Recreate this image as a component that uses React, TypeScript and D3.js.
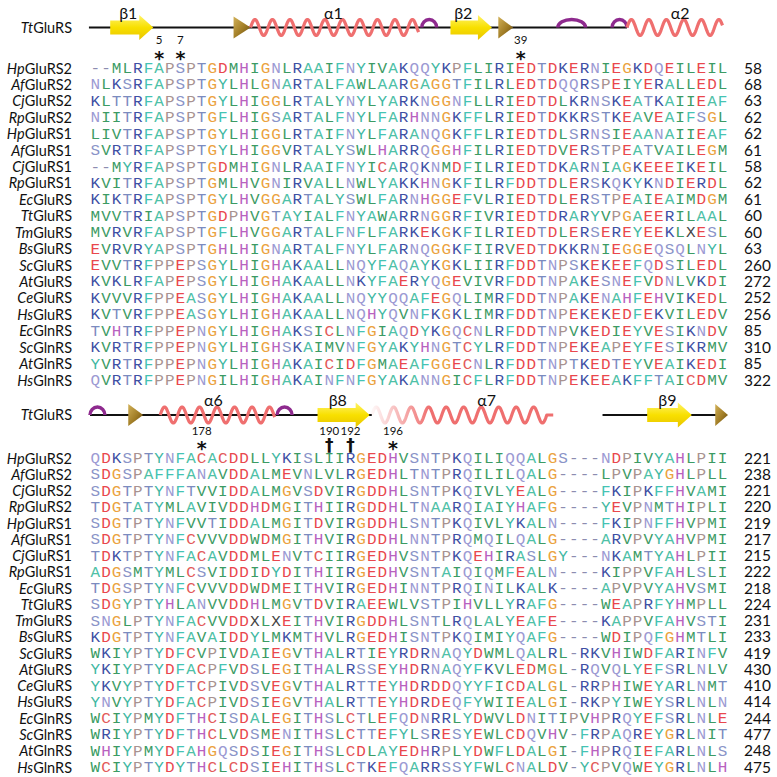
import React from "react";
import * as d3 from "d3";

const labels = [
  "HpGluRS2", "AfGluRS2", "CjGluRS2", "RpGluRS2", "HpGluRS1", "AfGluRS1", "CjGluRS1",
  "RpGluRS1", "EcGluRS", "TtGluRS", "TmGluRS", "BsGluRS", "ScGluRS", "AtGluRS",
  "CeGluRS", "HsGluRS", "EcGlnRS", "ScGlnRS", "AtGlnRS", "HsGlnRS",
];

const block1Seqs = [
  "--MLRFAPSPTGDMHIGNLRAAIFNYIVAKQQYKPFLIRIEDTDKERNIEGKDQEILEIL",
  "NLKSRFAPSPTGYLHLGNARTALFAWLAARGAGGTFILRLEDTDQQRSPEIYERALLEDL",
  "KLTTRFAPSPTGYLHIGGLRTALYNYLYARKNGGNFLLRIEDTDLKRNSKEATKAIIEAF",
  "NIITRFAPSPTGFLHIGSARTALFNYLFARHNNGKFFLRIEDTDKKRSTKEAVEAIFSGL",
  "LIVTRFAPSPTGYLHIGGLRTAIFNYLFARANQGKFFLRIEDTDLSRNSIEAANAIIEAF",
  "SVRTRFAPSPTGYLHIGGVRTALYSWLHARRQGGHFILRIEDTDVERSTPEATVAILEGM",
  "--MYRFAPSPTGDMHIGNLRAAIFNYICARQKNMDFILRIEDTDKARNIAGKEEEIKEIL",
  "KVITRFAPSPTGMLHVGNIRVALLNWLYAKKHNGKFILRFDDTDLERSKQKYKNDIERDL",
  "KIKTRFAPSPTGYLHVGGARTALYSWLFARNHGGEFVLRIEDTDLERSTPEAIEAIMDGM",
  "MVVTRIAPSPTGDPHVGTAYIALFNYAWARRNGGRFIVRIEDTDRARYVPGAEERILAAL",
  "MVRVRFAPSPTGFLHVGGARTALFNFLFARKEKGKFILRIEDTDLERSEREYEEKLXESL",
  "EVRVRYAPSPTGHLHIGNARTALFNYLFARNQGGKFIIRVEDTDKKRNIEGGEQSQLNYL",
  "EVVTRFPPEPSGYLHIGHAKAALLNQYFAQAYKGKLIIRFDDTNPSKEKEEFQDSILEDL",
  "KVKLRFAPEPSGYLHIGHAKAALLNKYFAERYQGEVIVRFDDTNPAKESNEFVDNLVKDI",
  "KVVVRFPPEASGYLHIGHAKAALLNQYYQQAFEGQLIMRFDDTNPAKENAHFEHVIKEDL",
  "KVTVRFPPEASGYLHIGHAKAALLNQHYQVNFKGKLIMRFDDTNPEKEKEDFEKVILEDV",
  "TVHTRFPPEPNGYLHIGHAKSICLNFGIAQDYKGQCNLRFDDTNPVKEDIEYVESIKNDV",
  "KVRTRFPPEPNGYLHIGHSKAIMVNFGYAKYHNGTCYLRFDDTNPEKEAPEYFESIKRMV",
  "YVRTRFPPEPNGYLHIGHAKAICIDFGMAEAFGGECNLRFDDTNPTKEDTEYVEAIKEDI",
  "QVRTRFPPEPNGILHIGHAKAINFNFGYAKANNGICFLRFDDTNPEKEEAKFFTAICDMV",
];
const block1End = [58, 68, 63, 62, 62, 61, 58, 62, 61, 60, 60, 63, 260, 272, 252, 256, 85, 310, 85, 322];

const block2Seqs = [
  "QDKSPTYNFACACDDLLYKISLIIRGEDHVSNTPKQILIQQALGS---NDPIVYAHLPII",
  "SDGSPAFFFANAVDDALMEVNLVLRGEDHLTNTPRQILILQALG----LPVPAYGHLPLL",
  "SDGTPTYNFTVVIDDALMGVSDVIRGDDHLSNTPKQIVLYEALG----FKIPKFFHVAMI",
  "TDGTATYMLAVIVDDHDMGITHIIRGDDHLTNAARQIAIYHAFG----YEVPNMTHIPLI",
  "SDGTPTYNFVVTIDDALMGITDVIRGDDHLSNTPKQIVLYKALN----FKIPNFFHVPMI",
  "SDGTPTYNFCVVVDDWDMGITHVIRGDDHLNNTPRQMQILQALG----ARVPVYAHVPMI",
  "TDKTPTYNFACAVDDMLENVTCIIRGEDHVSNTPKQEHIRASLGY---NKAMTYAHLPII",
  "ADGSMTYMLCSVIDDIDYDITHIIRGEDHVSNTAIQIQMFEALN----KIPPVFAHLSLI",
  "TDGSPTYNFCVVVDDWDMEITHVIRGEDHINNTPRQINILKALK----APVPVYAHVSMI",
  "SDGYPTYHLANVVDDHLMGVTDVIRAEEWLVSTPIHVLLYRAFG----WEAPRFYHMPLL",
  "SNGLPTYNFACVVDDXLXEITHVIRGDDHLSNTLRQLALYEAFE----KAPPVFAHVSTI",
  "KDGTPTYNFAVAIDDYLMKMTHVLRGEDHISNTPKQIMIYQAFG----WDIPQFGHMTLI",
  "WKIYPTYDFCVPIVDAIEGVTHALRTIEYRDRNAQYDWMLQALRL-RKVHIWDFARINFV",
  "YKIYPTYDFACPFVDSLEGITHALRSSEYHDRNAQYFKVLEDMGL-RQVQLYEFSRLNLV",
  "YKVYPTYDFTCPIVDSVEGVTHALRTTEYHDRDDQYYFICDALGL-RRPHIWEYARLNMT",
  "YNVYPTYDFACPIVDSIEGVTHALRTTEYHDRDEQFYWIIEALGI-RKPYIWEYSRLNLN",
  "WCIYPMYDFTHCISDALEGITHSLCTLEFQDNRRLYDWVLDNITIPVHPRQYEFSRLNLE",
  "WRIYPTYDFTHCLVDSMENITHSLCTTEFYLSRESYEWLCDQVHV-FRPAQREYGRLNIT",
  "WHIYPMYDFAHGQSDSIEGITHSLCDLAYEDHRPLYDWFLDALGI-FHPRQIEFARLNLS",
  "WCIYPTYDYTHCLCDSIEHITHSLCTKEFQARRSSYFWLCNALDV-YCPVQWEYGRLNLH",
];
const block2End = [221, 238, 221, 220, 219, 217, 215, 222, 218, 224, 231, 233, 419, 430, 410, 414, 244, 477, 248, 475];

// residue markers: column (1-based), residue number, symbol
const block1Marks = [
  { col: 7, num: "5", sym: "*" },
  { col: 9, num: "7", sym: "*" },
  { col: 41, num: "39", sym: "*" },
];
const block2Marks = [
  { col: 11, num: "178", sym: "*" },
  { col: 23, num: "190", sym: "†" },
  { col: 25, num: "192", sym: "†" },
  { col: 29, num: "196", sym: "*" },
];

// secondary structure of TtGluRS, in alignment column units
const block1Structure = [
  { type: "line", from: -0.1, to: 50.5 },
  { type: "strand", from: 1.9, to: 5.95, label: "β1", labelAt: 3.6 },
  { type: "turn", from: 13.5, to: 15.1 },
  { type: "helix", from: 15.1, to: 30.9, label: "α1", labelAt: 22.9 },
  { type: "loop", from: 31.2, to: 32.6 },
  { type: "strand", from: 33.9, to: 37.8, label: "β2", labelAt: 35.1 },
  { type: "turn", from: 38.4, to: 39.8 },
  { type: "loop", from: 44.0, to: 46.6 },
  { type: "loop", from: 49.1, to: 50.5 },
  { type: "helix", from: 50.5, to: 59.5, label: "α2", labelAt: 55.5 },
];
const block2Structure = [
  { type: "line", from: 0, to: 26.5 },
  { type: "line", from: 48.2, to: 59.0 },
  { type: "loop", from: 0, to: 1.4 },
  { type: "turn", from: 3.6, to: 5.0 },
  { type: "helix", from: 6.6, to: 17.4, label: "α6", labelAt: 11.6 },
  { type: "loop", from: 17.6, to: 19.0 },
  { type: "strand", from: 21.4, to: 26.3, label: "β8", labelAt: 23.3 },
  { type: "fadehelix", from: 26.5, to: 43.0, label: "α7", labelAt: 37.3 },
  { type: "strand", from: 52.4, to: 56.6, label: "β9", labelAt: 54.3 },
  { type: "turn", from: 58.8, to: 60.0 },
];

const aaColors: Record<string, string> = {
  A: "#4fc1a7", F: "#45c3b4", Y: "#3fb8a2", W: "#3a9c63",
  L: "#3c9b64", I: "#3c9b64", V: "#3c9b64", M: "#3c9b64",
  C: "#e35a5a", D: "#e9474d", E: "#e9474d",
  G: "#eba23e", H: "#b862bf", K: "#3e50a4", R: "#3e50a4",
  N: "#9c9ad3", Q: "#9c9ad3", S: "#8a94c8", T: "#7b8bbf", P: "#a89290",
  X: "#444444", "-": "#8c8cb0",
};

const W = 777;
const H = 777;
const seqLeft = 90;
const seqRight = 728;
const labelRight = 72;
const endLeft = 744;

const xCol = d3.scaleBand<number>().domain(d3.range(60)).range([seqLeft, seqRight]).padding(0);
const xUnit = d3.scaleLinear().domain([0, 60]).range([seqLeft, seqRight]);
const yRow1 = d3.scaleLinear().domain([0, 19]).range([68, 380]);
const yRow2 = d3.scaleLinear().domain([0, 19]).range([458, 767]);

const labelFont = "Lato, 'Open Sans', sans-serif";
const seqFont = "'Liberation Mono', 'Courier New', monospace";
const seqSize = 14.4;
const glyphWidth = 9.6;

function helixPath(x0: number, x1: number, cy: number, amp: number, period: number) {
  const pts: [number, number][] = d3
    .range(x0, x1 + 0.01, 0.5)
    .map((x) => [x, cy - amp * Math.sin((2 * Math.PI * (x - x0)) / period)]);
  return d3.line()(pts) || "";
}

function Label({ name, y }: { name: string; y: number }) {
  return (
    <text x={labelRight} y={y} textAnchor="end" fontFamily={labelFont} fontSize={14.5} fill="#111">
      <tspan fontStyle="italic">{name.slice(0, 2)}</tspan>
      {name.slice(2)}
    </text>
  );
}

function Structure({ items, cy, id }: { items: any[]; cy: number; id: string }) {
  const out: React.ReactNode[] = [];
  items.forEach((it, i) => {
    const x0 = xUnit(it.from);
    const x1 = xUnit(it.to);
    if (it.type === "line") {
      out.push(<line key={i} x1={x0} x2={x1} y1={cy} y2={cy} stroke="#111" strokeWidth={2} />);
    }
  });
  items.forEach((it, i) => {
    const x0 = xUnit(it.from);
    const x1 = xUnit(it.to);
    if (it.type === "strand") {
      const bh = 7, hh = 12.5, hl = 14;
      const xh = x1 - hl;
      const pts = [[x0, cy - bh], [xh, cy - bh], [xh, cy - hh], [x1, cy], [xh, cy + hh], [xh, cy + bh], [x0, cy + bh]];
      out.push(<polygon key={"s" + i} points={pts.map((p) => p.join(",")).join(" ")} fill={`url(#strand-${id})`} />);
    } else if (it.type === "turn") {
      const pts = [[x0, cy - 11], [x1, cy], [x0, cy + 11]];
      out.push(<polygon key={"t" + i} points={pts.map((p) => p.join(",")).join(" ")} fill={`url(#turn-${id})`} />);
    } else if (it.type === "loop") {
      out.push(
        <path key={"l" + i} d={`M${x0},${cy} A${(x1 - x0) / 2},8 0 0 1 ${x1},${cy}`} fill="none" stroke="#8e2a8e" strokeWidth={3.5} />
      );
    } else if (it.type === "helix") {
      out.push(
        <path key={"h" + i} d={helixPath(x0, x1, cy, 8, 17.5)} fill="none" stroke="#ef6f6f" strokeWidth={3.2} strokeLinejoin="round" />
      );
    } else if (it.type === "fadehelix") {
      const end = x1;
      out.push(
        <path key={"f" + i} d={helixPath(x0, end, cy, 8, 17.5) + ` L${end + 6},${cy}`} fill="none" stroke={`url(#fade-${id})`} strokeWidth={3.2} strokeLinejoin="round" />
      );
    }
    if (it.label) {
      out.push(
        <text key={"lb" + i} x={xUnit(it.labelAt)} y={cy - 9} textAnchor="middle" fontFamily={labelFont} fontSize={16} fill="#111">
          {it.label}
        </text>
      );
    }
  });
  return <g>{out}</g>;
}

function Block({ seqs, ends, marks, structure, yRow, cy, numY, symY, id }: any) {
  const fadeStart = xUnit(26.5);
  return (
    <g>
      <defs>
        <linearGradient id={`strand-${id}`} x1="0" y1="0" x2="0" y2="1">
          <stop offset="0" stopColor="#fff36a" />
          <stop offset="0.5" stopColor="#f8e000" />
          <stop offset="1" stopColor="#e9c400" />
        </linearGradient>
        <linearGradient id={`turn-${id}`} x1="0" y1="0" x2="1" y2="1">
          <stop offset="0" stopColor="#d2b158" />
          <stop offset="0.55" stopColor="#a07c25" />
          <stop offset="1" stopColor="#5e430c" />
        </linearGradient>
        <linearGradient id={`fade-${id}`} gradientUnits="userSpaceOnUse" x1={fadeStart} y1="0" x2={fadeStart + 58} y2="0">
          <stop offset="0" stopColor="#ef6f6f" stopOpacity={0.05} />
          <stop offset="1" stopColor="#ef6f6f" stopOpacity={1} />
        </linearGradient>
      </defs>
      <Label name="TtGluRS" y={cy + 5} />
      <Structure items={structure} cy={cy} id={id} />
      {marks.map((m: any, i: number) => {
        const cx = (xCol(m.col - 1) as number) + xCol.bandwidth() / 2;
        return (
          <g key={i}>
            <text x={cx} y={numY} textAnchor="middle" fontFamily={labelFont} fontSize={11.5} fill="#111">
              {m.num}
            </text>
            {m.sym === "*" ? (
              <text x={cx} y={symY + 11} textAnchor="middle" fontFamily="'DejaVu Sans', sans-serif" fontWeight="bold" fontSize={19} fill="#111">
                *
              </text>
            ) : (
              <text x={cx} y={symY + 7} textAnchor="middle" fontFamily="'DejaVu Sans', sans-serif" fontWeight="bold" fontSize={17} fill="#111">
                †
              </text>
            )}
          </g>
        );
      })}
      {seqs.map((s: string, r: number) => {
        const y = yRow(r);
        return (
          <g key={r}>
            <Label name={labels[r]} y={y + 5.5} />
            {s.split("").map((ch, c) => (
              <text
                key={c}
                x={(xCol(c) as number) + (xCol.bandwidth() - glyphWidth) / 2}
                y={y + 5}
                textLength={glyphWidth}
                lengthAdjust="spacingAndGlyphs"
                fontFamily={seqFont}
                fontSize={seqSize}
                fill={aaColors[ch] || "#444"}
              >
                {ch}
              </text>
            ))}
            <text x={endLeft} y={y + 5.5} fontFamily={labelFont} fontSize={15.5} fill="#111">
              {ends[r]}
            </text>
          </g>
        );
      })}
    </g>
  );
}

export default function App() {
  return (
    <svg width={W} height={H} viewBox={`0 0 ${W} ${H}`} style={{ position: "absolute", left: 0, top: 0, background: "#fff" }}>
      <rect width={W} height={H} fill="#fff" />
      <Block seqs={block1Seqs} ends={block1End} marks={block1Marks} structure={block1Structure} yRow={yRow1} cy={27.5} numY={44} symY={54} id="b1" />
      <Block seqs={block2Seqs} ends={block2End} marks={block2Marks} structure={block2Structure} yRow={yRow2} cy={415} numY={435} symY={444} id="b2" />
    </svg>
  );
}
